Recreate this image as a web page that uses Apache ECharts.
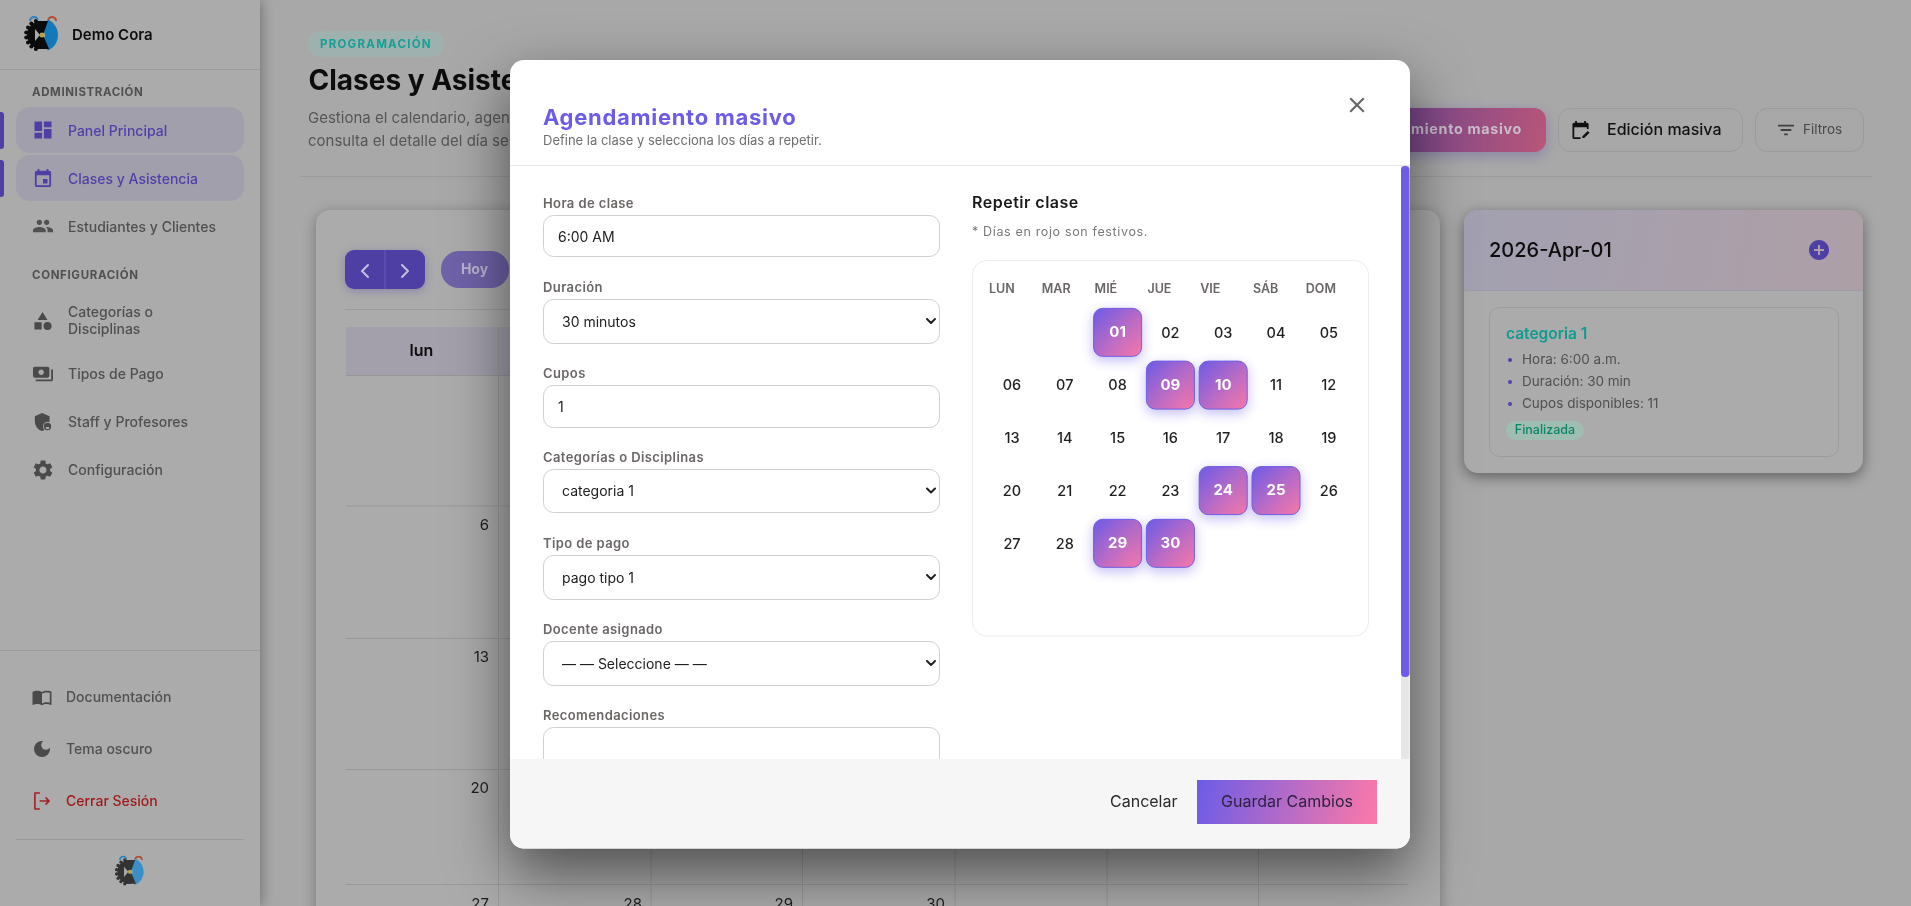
<!DOCTYPE html>
<html>
<head>
<meta charset="utf-8">
<title>Agendamiento masivo</title>
<style>
html,body{margin:0;padding:0;width:100%;height:100%;overflow:hidden;background:#a8a8a8;}
#page,#modal{position:absolute;left:0;top:0;width:1911px;height:906px;}
#page{filter:blur(0.5px);}
</style>
<script src="https://cdn.jsdelivr.net/npm/echarts@6/dist/echarts.min.js"></script>
</head>
<body>
<div id="page"></div>
<div id="modal"></div>
<script>
var weekdays = ['LUN', 'MAR', 'MIÉ', 'JUE', 'VIE', 'SÁB', 'DOM'];
var weekRows = ['s1', 's2', 's3', 's4', 's5'];
var dayLabels = ['01','02','03','04','05','06','07','08','09','10','11','12','13','14','15','16','17','18','19','20','21','22','23','24','25','26','27','28','29','30'];
var selectedDays = ['01', '09', '10', '24', '25', '29', '30'];
var firstDayColumn = 2;

var FONT = 'Inter, "Noto Sans", sans-serif';

// zrender no tiene letter-spacing, se aplica al pintar estos textos
var spacedText = {
    'PROGRAMACIÓN': '1.25px', 'ADMINISTRACIÓN': '0.6px', 'CONFIGURACIÓN': '0.65px',
    'Agendamiento masivo': '0.7px', 'Repetir clase': '0.5px', '* Días en rojo son festivos.': '0.65px',
    'Hora de clase': '0.4px', 'Duración': '0.4px', 'Cupos': '0.4px', 'Categorías o Disciplinas': '0.4px',
    'Tipo de pago': '0.4px', 'Docente asignado': '0.4px', 'Recomendaciones': '0.4px'
};
var rawFillText = CanvasRenderingContext2D.prototype.fillText;
CanvasRenderingContext2D.prototype.fillText = function (t, x, y, w) {
    this.letterSpacing = spacedText[t] || '0px';
    if (w === undefined) { rawFillText.call(this, t, x, y); } else { rawFillText.call(this, t, x, y, w); }
};

// iconos
var ICON_DASH = 'M3 13h8V3H3v10zm0 8h8v-6H3v6zm10 0h8V11h-8v10zm0-18v6h8V3h-8z';
var ICON_EVENT = 'M17 12h-5v5h5v-5zM16 1v2H8V1H6v2H5c-1.11 0-1.99.9-1.99 2L3 19c0 1.1.89 2 2 2h14c1.1 0 2-.9 2-2V5c0-1.1-.9-2-2-2h-1V1h-2zm3 18H5V8h14v11z';
var ICON_PEOPLE = 'M16 11c1.66 0 2.99-1.34 2.99-3S17.66 5 16 5c-1.66 0-3 1.34-3 3s1.34 3 3 3zm-8 0c1.66 0 2.99-1.34 2.99-3S9.66 5 8 5C6.34 5 5 6.34 5 8s1.34 3 3 3zm0 2c-2.33 0-7 1.17-7 3.5V19h14v-2.5c0-2.33-4.67-3.5-7-3.5zm8 0c-.29 0-.62.02-.97.05 1.16.84 1.97 1.97 1.97 3.45V19h6v-2.5c0-2.33-4.67-3.5-7-3.5z';
var ICON_CATEGORY = 'M12 2l-5.5 9h11zM17.5 13a4.5 4.5 0 1 0 0 9a4.5 4.5 0 1 0 0-9zM3 13.5h8v8H3z';
var ICON_PAY = 'M19 14V6c0-1.1-.9-2-2-2H3c-1.1 0-2 .9-2 2v8c0 1.1.9 2 2 2h14c1.1 0 2-.9 2-2zm-9-1c-1.66 0-3-1.34-3-3s1.34-3 3-3 3 1.34 3 3-1.34 3-3 3zm13-6v11c0 1.1-.9 2-2 2H4v-2h17V7h2z';
var ICON_STAFF = 'M12 1L3 5v6c0 5.5 3.8 10.7 9 12 1-.2 1.9-.6 2.8-1.1A6 6 0 0 1 13 17.5a6 6 0 0 1 8-5.6V5zM18.5 13a4.5 4.5 0 1 0 0 9a4.5 4.5 0 1 0 0-9zm-2 5h4v2.5h-4z';
var ICON_GEAR = 'M19.14 12.94c.04-.3.06-.61.06-.94 0-.32-.02-.64-.07-.94l2.03-1.58c.18-.14.23-.41.12-.61l-1.92-3.32c-.12-.22-.37-.29-.59-.22l-2.39.96c-.5-.38-1.03-.7-1.62-.94l-.36-2.54c-.04-.24-.24-.41-.48-.41h-3.84c-.24 0-.43.17-.47.41l-.36 2.54c-.59.24-1.13.57-1.62.94l-2.39-.96c-.22-.08-.47 0-.59.22L2.74 8.87c-.12.21-.08.47.12.61l2.03 1.58c-.05.3-.09.63-.09.94s.02.64.07.94l-2.03 1.58c-.18.14-.23.41-.12.61l1.92 3.32c.12.22.37.29.59.22l2.39-.96c.5.38 1.03.7 1.62.94l.36 2.54c.05.24.24.41.48.41h3.84c.24 0 .44-.17.47-.41l.36-2.54c.59-.24 1.13-.56 1.62-.94l2.39.96c.22.08.47 0 .59-.22l1.92-3.32c.12-.22.07-.47-.12-.61l-2.01-1.58zM12 15.6c-1.98 0-3.6-1.62-3.6-3.6s1.62-3.6 3.6-3.6 3.6 1.62 3.6 3.6-1.62 3.6-3.6 3.6z';
var ICON_BOOK = 'M21 5c-1.11-.35-2.33-.5-3.5-.5-1.95 0-4.05.4-5.5 1.5-1.45-1.1-3.55-1.5-5.5-1.5S2.45 4.9 1 6v14.65c0 .25.25.5.5.5.1 0 .15-.05.25-.05C3.1 20.45 5.05 20 6.5 20c1.95 0 4.05.4 5.5 1.5 1.35-.85 3.8-1.5 5.5-1.5 1.65 0 3.35.3 4.75 1.05.1.05.15.05.25.05.25 0 .5-.25.5-.5V6c-.6-.45-1.25-.75-2-1zm0 13.5c-1.1-.35-2.3-.5-3.5-.5-1.7 0-4.15.65-5.5 1.5V8c1.35-.85 3.8-1.5 5.5-1.5 1.2 0 2.4.15 3.5.5v11.5z';
var ICON_MOON = 'M12 3a9 9 0 1 0 9 9c0-.46-.04-.92-.1-1.36a5.39 5.39 0 0 1-4.4 2.26 5.4 5.4 0 0 1-3.14-9.8c-.44-.06-.9-.1-1.36-.1z';
var ICON_LOGOUT = 'M10 3H5v18h5M11 12h10M17.5 8.5l3.5 3.5-3.5 3.5';
var ICON_FILTER = 'M10 18h4v-2h-4v2zM3 6v2h18V6H3zm3 7h12v-2H6v2z';
var ICON_CLOSE = 'M19 6.41L17.59 5 12 10.59 6.41 5 5 6.41 10.59 12 5 17.59 6.41 19 12 13.41 17.59 19 19 17.59 13.41 12z';
var ICON_PLUS = 'M12 2C6.48 2 2 6.48 2 12s4.48 10 10 10 10-4.48 10-10S17.52 2 12 2zm5 11h-4v4h-2v-4H7v-2h4V7h2v4h4v2z';
var ICON_EDITCAL = 'M5 5h14v5h2V5c0-1.1-.9-2-2-2h-1V1h-2v2H8V1H6v2H5c-1.11 0-1.99.9-1.99 2L3 19c0 1.1.89 2 2 2h7v-2H5V8h14v2h2V5zM22 14l-2-2-6 6v2h2z';
var ICON_CHEVRON = 'M1 1l4.5 4.5L10 1';
var ICON_LEFT = 'M7 1L1 7l6 6';
var ICON_RIGHT = 'M1 1l6 6-6 6';

// el componente graphic no trae 'path', se registra cada icono como forma
var iconShapes = {};
var iconCount = 0;
function iconShape(d) {
    if (!iconShapes[d]) {
        var name = 'uiIcon' + (iconCount++);
        var Cls = echarts.graphic.extendPath(d, {});
        echarts.graphic.registerShape(name, Cls);
        iconShapes[d] = {name: name, box: new Cls().getBoundingRect()};
    }
    return iconShapes[d];
}
function placeIcon(d, cx, cy, size, style) {
    var info = iconShape(d);
    var b = info.box;
    var s = size / Math.max(b.width, b.height);
    if (style.stroke) style.lineWidth = style.lineWidth / s;
    return {type: info.name, silent: true, scaleX: s, scaleY: s,
        x: cx - (b.x + b.width / 2) * s, y: cy - (b.y + b.height / 2) * s, style: style};
}
function icon(d, cx, cy, size, fill) {
    return placeIcon(d, cx, cy, size, {fill: fill});
}
function strokeIcon(d, cx, cy, size, color, width) {
    return placeIcon(d, cx, cy, size, {fill: 'none', stroke: color, lineWidth: width, lineCap: 'round', lineJoin: 'round'});
}

function rect(x, y, w, h, fill, r, stroke, extra) {
    var style = {fill: fill || 'transparent'};
    if (stroke) { style.stroke = stroke; style.lineWidth = 1; }
    if (extra) { for (var k in extra) style[k] = extra[k]; }
    return {type: 'rect', silent: true, shape: {x: x, y: y, width: w, height: h, r: r || 0}, style: style};
}
function line(x1, y1, x2, y2, color) {
    return {type: 'line', silent: true, shape: {x1: x1, y1: y1, x2: x2, y2: y2}, style: {stroke: color, lineWidth: 1}};
}
function text(str, x, y, size, weight, fill, align) {
    return {type: 'text', silent: true, style: {
        text: str, x: x, y: y, fill: fill,
        fontFamily: FONT, fontSize: size, fontWeight: weight,
        align: align || 'left', verticalAlign: 'middle',
        textAlign: align || 'left', textVerticalAlign: 'middle'
    }};
}
function grad(a, b) {
    return new echarts.graphic.LinearGradient(0, 0, 1, 1, [{offset: 0, color: a}, {offset: 1, color: b}]);
}
function dot(cx, cy, r, fill) {
    return {type: 'circle', silent: true, shape: {cx: cx, cy: cy, r: r}, style: {fill: fill}};
}
function logo(cx, cy, s, black, blue, gap) {
    var out = [];
    // rueda dentada a la izquierda
    out.push(dot(cx - 1 * s, cy + 1 * s, 14 * s, black));
    for (var a = 110; a <= 250; a += 20) {
        var rad = a * Math.PI / 180;
        out.push(dot(cx - 1 * s + Math.cos(rad) * 15 * s, cy + 1 * s - Math.sin(rad) * 15 * s, 2 * s, black));
    }
    out.push({type: 'sector', silent: true, shape: {cx: cx - 1 * s, cy: cy + 1 * s, r: 17 * s, r0: 0, startAngle: -Math.PI / 2.4, endAngle: Math.PI / 2.4}, style: {fill: gap}});
    out.push({type: 'sector', silent: true, shape: {cx: cx - 1 * s, cy: cy + 1 * s, r: 17 * s, r0: 4 * s, startAngle: -Math.PI / 2.7, endAngle: Math.PI / 2.7}, style: {fill: blue}});
    out.push({type: 'polygon', silent: true, shape: {points: [[cx - 7 * s, cy - 13 * s], [cx + 6 * s, cy - 13 * s], [cx + 1 * s, cy + 1 * s], [cx + 7 * s, cy + 15 * s], [cx - 7 * s, cy + 15 * s], [cx - 2 * s, cy + 1 * s]]}, style: {fill: black}});
    out.push({type: 'polygon', silent: true, shape: {points: [[cx - 7 * s, cy - 5 * s], [cx - 2 * s, cy + 1 * s], [cx - 7 * s, cy + 7 * s]]}, style: {fill: gap}});
    out.push(dot(cx, cy + 1 * s, 2.5 * s, '#b9a24a'));
    out.push({type: 'sector', silent: true, shape: {cx: cx - 8 * s, cy: cy - 13 * s, r: 5 * s, r0: 3 * s, startAngle: Math.PI, endAngle: Math.PI * 1.9}, style: {fill: '#2f82bd'}});
    out.push({type: 'sector', silent: true, shape: {cx: cx + 10 * s, cy: cy - 13 * s, r: 5 * s, r0: 3 * s, startAngle: Math.PI * 1.1, endAngle: Math.PI * 2}, style: {fill: '#b4492d'}});
    return out;
}

// ---------- pagina detras del modal ----------
var SIDE = '#ababab', MAIN = '#a8a8a8', GREY = '#505050', LINE = '#9b9b9b', VIOLET = '#4e3fa5', VTXT = '#5040a8';
var page = [];
page.push(rect(0, 0, 1911, 906, MAIN));

// tarjeta calendario
page.push(rect(316, 210, 1124, 760, SIDE, 14, null, {shadowBlur: 14, shadowOffsetY: 3, shadowColor: 'rgba(0,0,0,.3)'}));
page.push(rect(345, 250, 80, 39, VIOLET, 9, null, {shadowBlur: 8, shadowOffsetY: 2, shadowColor: 'rgba(78,63,165,.35)'}));
page.push(line(385, 250, 385, 289, '#6a5db4'));
page.push(strokeIcon(ICON_LEFT, 365, 271, 12, '#c4bfe0', 2));
page.push(strokeIcon(ICON_RIGHT, 405, 271, 12, '#c4bfe0', 2));
page.push(rect(441, 251, 68, 37, '#6f62a8', 18));
page.push(text('Hoy', 474.5, 270, 14, 700, '#b7b3cd', 'center'));
page.push(line(345, 309.5, 1410, 309.5, LINE));
page.push(rect(346, 327, 1062, 49, '#a3a0ac'));
page.push(line(346, 375.5, 1408, 375.5, '#979797'));
page.push(text('lun', 421.5, 351.5, 16, 600, '#0d0d0d', 'center'));
[498.5, 651, 802.5, 955, 1107, 1258.5].forEach(function (x) { page.push(line(x, 327, x, 906, '#999999')); });
[506, 638.5, 769.5, 884.5].forEach(function (y) { page.push(line(346, y, 1408, y, '#999999')); });
page.push(text('6', 489, 525, 15, 400, '#1c1c1c', 'right'));
page.push(text('13', 489, 657, 15, 400, '#1c1c1c', 'right'));
page.push(text('20', 489, 788, 15, 400, '#1c1c1c', 'right'));
page.push(text('27', 489, 904, 15, 400, '#1c1c1c', 'right'));
page.push(text('28', 642, 904, 15, 400, '#1c1c1c', 'right'));
page.push(text('29', 793, 904, 15, 400, '#1c1c1c', 'right'));
page.push(text('30', 945, 904, 15, 400, '#1c1c1c', 'right'));

// cabecera
page.push(rect(308, 31, 136, 26, '#9eb1ae', 13));
page.push(text('PROGRAMACIÓN', 320, 45, 11.5, 700, '#14a096'));
page.push(text('Clases y Asistencia', 308.5, 82, 28, 700, '#0d0d0d'));
page.push(text('Gestiona el calendario, agenda clases y', 308, 118, 15, 400, '#565656'));
page.push(text('consulta el detalle del día seleccionado.', 308, 141, 15, 400, '#565656'));
page.push(line(300, 176.5, 1872, 176.5, LINE));

// botones
page.push(rect(1310, 108, 236, 44, new echarts.graphic.LinearGradient(0, 0, 1, 1, [{offset: 0, color: '#4f3d99'}, {offset: 1, color: '#b85678'}]), 12, null, {shadowBlur: 14, shadowOffsetY: 4, shadowColor: 'rgba(78,63,165,.35)'}));
page.push(text('Agendamiento masivo', 1522, 130, 14.3, 700, '#c9bccb', 'right'));
page.push(rect(1558.5, 108.5, 184, 43, 'transparent', 12, LINE));
page.push(icon(ICON_EDITCAL, 1581, 130, 18, '#111111'));
page.push(text('Edición masiva', 1607, 130, 16, 500, '#111111'));
page.push(rect(1755.5, 108.5, 108, 43, 'transparent', 12, LINE));
page.push(icon(ICON_FILTER, 1786, 130, 16, '#404040'));
page.push(text('Filtros', 1803, 130, 13.5, 400, '#484848'));

// tarjeta lateral
page.push(rect(1464, 210, 399, 263, SIDE, 14, null, {shadowBlur: 14, shadowOffsetY: 4, shadowColor: 'rgba(0,0,0,.42)'}));
page.push({type: 'rect', silent: true, shape: {x: 1464, y: 210, width: 399, height: 80, r: [14, 14, 0, 0]}, style: {
    fill: new echarts.graphic.LinearGradient(0, 0, 1, 1, [{offset: 0, color: '#a2a0b1'}, {offset: 1, color: '#ae9fa6'}])}});
page.push(line(1464, 290.5, 1863, 290.5, '#9c9bab'));
page.push(text('2026-Apr-01', 1489, 251, 20, 500, '#0d0d0d'));
page.push(icon(ICON_PLUS, 1819, 250, 20, VIOLET));
page.push(rect(1489.5, 307.5, 349, 149, 'transparent', 10, '#9c9c9c'));
page.push(text('categoria 1', 1506, 334, 15.5, 600, '#0f9c90'));
var infoRows = ['Hora: 6:00 a.m.', 'Duración: 30 min', 'Cupos disponibles: 11'];
infoRows.forEach(function (t, i) {
    var y = 359.5 + i * 22;
    page.push(dot(1510, y + 0.5, 2, VTXT));
    page.push(text(t, 1522, y, 13.5, 400, GREY));
});
page.push(rect(1506, 421, 78, 19, '#a0bdb2', 9.5));
page.push(text('Finalizada', 1545, 430.5, 12.5, 500, '#0b8468', 'center'));

// menu lateral
page.push(rect(0, 0, 260, 906, SIDE, 0, null, {shadowBlur: 12, shadowOffsetX: 2, shadowColor: 'rgba(0,0,0,.3)'}));
page.push(line(0, 69.5, 260, 69.5, LINE));
page = page.concat(logo(42, 34, 1, '#0b0b0b', '#1479b8', SIDE));
page.push(text('Demo Cora', 72, 35, 15, 600, '#0d0d0d'));
page.push(text('ADMINISTRACIÓN', 32, 92.5, 11.5, 700, GREY));
page.push(rect(16, 107, 228, 46, '#a29fac', 14));
page.push(rect(16, 155, 228, 46, '#a29fac', 14));
page.push(rect(-4, 112, 8, 37, VIOLET, 3));
page.push(rect(-4, 160, 8, 37, VIOLET, 3));
page.push(icon(ICON_DASH, 43, 130, 17, VIOLET));
page.push(text('Panel Principal', 68, 131.5, 14, 500, VTXT));
page.push(icon(ICON_EVENT, 43, 178, 18, VIOLET));
page.push(text('Clases y Asistencia', 68, 179.5, 14, 500, VTXT));
page.push(icon(ICON_PEOPLE, 43, 226, 20, GREY));
page.push(text('Estudiantes y Clientes', 68, 227.5, 14, 500, GREY));
page.push(text('CONFIGURACIÓN', 32, 275.5, 11.5, 700, GREY));
page.push(icon(ICON_CATEGORY, 43, 321, 18, '#4a4a4a'));
page.push(text('Categorías o', 68, 312.5, 14, 500, GREY));
page.push(text('Disciplinas', 68, 329.5, 14, 500, GREY));
page.push(icon(ICON_PAY, 43, 374, 20, '#4a4a4a'));
page.push(text('Tipos de Pago', 68, 374.5, 14, 500, GREY));
page.push(icon(ICON_STAFF, 43, 422, 18, '#4a4a4a'));
page.push(text('Staff y Profesores', 68, 422.5, 14, 500, GREY));
page.push(icon(ICON_GEAR, 43, 470, 19, '#4a4a4a'));
page.push(text('Configuración', 68, 470.5, 14, 500, GREY));
page.push(line(0, 650.5, 260, 650.5, LINE));
page.push(icon(ICON_BOOK, 42, 698, 19, '#4a4a4a'));
page.push(text('Documentación', 66, 698, 14, 500, GREY));
page.push(icon(ICON_MOON, 42, 749, 16, '#4a4a4a'));
page.push(text('Tema oscuro', 66, 750, 14, 500, GREY));
page.push(strokeIcon(ICON_LOGOUT, 42, 801, 16, '#a52020', 1.6));
page.push(text('Cerrar Sesión', 66, 802, 14, 500, '#a01c1c'));
page.push(line(16, 839.5, 244, 839.5, LINE));
page = page.concat(logo(130, 871, 0.85, '#333333', '#3a8fc7', SIDE));

var pageChart = echarts.init(document.getElementById('page'));
pageChart.setOption({animation: false, graphic: {elements: page}});

// ---------- modal ----------
var TXT = '#212121', LBL = '#6b6666', BORDER = '#d0d0d0';
var modal = [];
modal.push(rect(510, 60, 900, 788.5, '#ffffff', 14, null, {shadowBlur: 60, shadowOffsetY: 24, shadowColor: 'rgba(0,0,0,.55)'}));
modal.push(text('Agendamiento masivo', 543, 118, 22, 700, '#6c5ce7'));
modal.push(text('Define la clase y selecciona los días a repetir.', 543, 141, 13, 400, '#6f6f6f'));
modal.push(icon(ICON_CLOSE, 1357, 105, 15, '#666666'));
modal.push(line(510, 165.5, 1410, 165.5, '#e8e8e8'));

// formulario
function label(str, y) { modal.push(text(str, 543, y + 1, 13, 600, LBL)); }
function field(y, h, value, isSelect, dy) {
    modal.push(rect(543.5, y + 0.5, 396, h - 1, '#ffffff', 10, BORDER));
    if (value) modal.push(text(value, isSelect ? 562 : 558, y + h / 2 + 1 + (dy || 0), 14, 400, TXT));
    if (isSelect) modal.push(strokeIcon(ICON_CHEVRON, 931, y + h / 2 - 0.5, 8, '#222222', 2));
}
label('Hora de clase', 203.5);
field(215, 42, '6:00 AM', false, 1);
label('Duración', 287.5);
field(299, 45, '30 minutos', true);
label('Cupos', 373.5);
field(385, 43, '1', false, 0.5);
label('Categorías o Disciplinas', 457.5);
field(469, 44, 'categoria 1', true);
label('Tipo de pago', 543);
field(555, 45, 'pago tipo 1', true);
label('Docente asignado', 629);
field(641, 45, '— — Seleccione — —', true);
label('Recomendaciones', 715);
field(727, 70, '', false);

// columna derecha
modal.push(text('Repetir clase', 972, 203.5, 16, 600, '#1a1a1a'));
modal.push(text('* Días en rojo son festivos.', 972, 232, 12.5, 400, '#787878'));
modal.push(rect(972.5, 260.5, 396, 375.5, '#ffffff', 14, '#ececec'));

// barra de scroll
modal.push(rect(1401, 166, 8.5, 593, '#e6e6e6'));
modal.push(rect(1401, 166, 8.5, 511, '#6c5ce7', 4));

// pie
modal.push({type: 'rect', silent: true, shape: {x: 510, y: 759, width: 900, height: 89.5, r: [0, 0, 14, 14]}, style: {fill: '#f6f6f6'}});
modal.push(text('Cancelar', 1110, 802.5, 16, 400, '#2a2a2a'));
modal.push(rect(1197, 780, 180, 44, grad('#6c5ce7', '#fd79a8')));
modal.push(text('Guardar Cambios', 1287, 802.5, 16, 400, '#2d2140', 'center'));

// dias del mes: columna y fila salen de la posicion en el mes
var dayData = dayLabels.map(function (d, i) {
    var pos = i + firstDayColumn;
    return [pos % 7, Math.floor(pos / 7)];
});

function renderDay(params, api) {
    var p = api.coord([api.value(0), api.value(1)]);
    var day = dayLabels[params.dataIndex];
    var on = selectedDays.indexOf(day) >= 0;
    var children = [];
    if (on) {
        children.push({type: 'rect', shape: {x: p[0] - 24, y: p[1] - 24, width: 48, height: 48, r: 9}, style: {
            fill: grad('#6c5ce7', '#fd79a8'), stroke: '#6f5ee6', lineWidth: 1,
            shadowBlur: 12, shadowOffsetY: 4, shadowColor: 'rgba(108,92,231,.38)'
        }});
    }
    children.push({type: 'text', style: {
        text: day, x: p[0], y: p[1] + (on ? 0 : 1),
        fill: on ? '#ffffff' : '#1f1f1f',
        fontFamily: FONT, fontSize: on ? 15 : 14.5, fontWeight: on ? 700 : 500,
        align: 'center', verticalAlign: 'middle', textAlign: 'center', textVerticalAlign: 'middle'
    }});
    return {type: 'group', children: children};
}

var option = {
    animation: false,
    tooltip: {show: false},
    grid: [
        {left: 985.6, top: 306, width: 369.6, height: 263.7},
        {left: 962.6, top: 306, width: 369.6, height: 263.7}
    ],
    xAxis: [
        {type: 'category', gridIndex: 0, data: weekdays, show: false},
        {type: 'category', gridIndex: 1, data: weekdays, position: 'top',
            axisLine: {show: false}, axisTick: {show: false}, splitLine: {show: false},
            axisLabel: {show: true, interval: 0, align: 'left', margin: 10, color: '#6b6666', fontFamily: FONT, fontSize: 12.5, fontWeight: 600}}
    ],
    yAxis: [
        {type: 'category', gridIndex: 0, data: weekRows, inverse: true, show: false},
        {type: 'value', gridIndex: 1, show: false}
    ],
    graphic: {elements: modal},
    series: [{
        type: 'custom',
        xAxisIndex: 0,
        yAxisIndex: 0,
        silent: true,
        clip: false,
        renderItem: renderDay,
        data: dayData
    }]
};
var modalChart = echarts.init(document.getElementById('modal'));
modalChart.setOption(option);
</script>
</body>
</html>
